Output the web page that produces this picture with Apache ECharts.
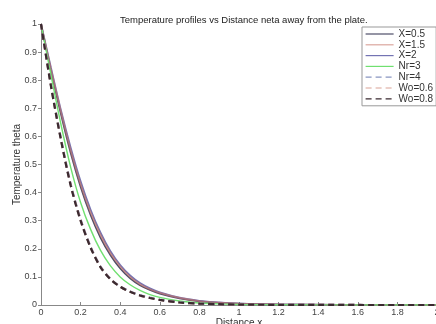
<!DOCTYPE html>
<html><head><meta charset="utf-8">
<script src="https://cdn.jsdelivr.net/npm/echarts@6/dist/echarts.min.js"></script>
<style>html,body{margin:0;padding:0;background:#fff}#c{width:436px;height:324px}</style>
</head><body><div id="c"></div>
<script>
var xs = [0,0.05,0.1,0.15,0.2,0.25,0.3,0.35,0.4,0.45,0.5,0.55,0.6,0.7,0.8,0.9,1.0,1.2,1.4,1.6,1.8,2.0];
var xTicks = ['0','0.2','0.4','0.6','0.8','1','1.2','1.4','1.6','1.8','2'];
var yTicks = ['0','0.1','0.2','0.3','0.4','0.5','0.6','0.7','0.8','0.9','1'];
var sX05 = [1,0.835,0.68,0.54,0.42,0.32,0.24,0.178,0.13,0.095,0.07,0.053,0.04,0.023,0.013,0.008,0.005,0.002,0.001,0.0005,0.0002,0];
var sX15 = [1,0.84,0.69,0.55,0.43,0.33,0.25,0.185,0.137,0.1,0.074,0.056,0.043,0.025,0.014,0.008,0.005,0.002,0.001,0.0005,0.0002,0];
var sX2 = [1,0.845,0.695,0.56,0.44,0.34,0.258,0.192,0.142,0.105,0.078,0.059,0.045,0.026,0.015,0.009,0.005,0.002,0.001,0.0005,0.0002,0];
var sNr3 = [1,0.82,0.645,0.49,0.365,0.27,0.195,0.14,0.1,0.072,0.052,0.037,0.027,0.014,0.007,0.004,0.002,0.001,0.0005,0.0002,0.0001,0];
var sNr4 = [1,0.785,0.595,0.43,0.305,0.208,0.138,0.094,0.066,0.048,0.035,0.026,0.019,0.01,0.005,0.003,0.0015,0.0006,0.0003,0.0001,0,0];
var sWo06 = [1,0.782,0.592,0.427,0.302,0.206,0.136,0.093,0.065,0.047,0.034,0.025,0.018,0.009,0.005,0.003,0.0015,0.0006,0.0003,0.0001,0,0];
var sWo08 = [1,0.78,0.59,0.425,0.3,0.205,0.135,0.092,0.065,0.047,0.034,0.025,0.018,0.009,0.005,0.003,0.0015,0.0006,0.0003,0.0001,0,0];

var names = ['X=0.5','X=1.5','X=2','Nr=3','Nr=4','Wo=0.6','Wo=0.8'];
var values = [sX05, sX15, sX2, sNr3, sNr4, sWo06, sWo08];
var colors = ['#3a3a58','#c8766a','#5a5aa6','#70e070','#6a7ab0','#d08a7a','#3a2a30'];
var types = ['solid','solid','solid','solid',[6,4],[6,4],[6,4]];
var widths = [1.6,1.8,1.8,1.4,2.2,2.2,2.2];
var opac = [0.9,0.65,0.85,1,0.8,0.8,1];
var zs = [1,3,2,4,5,6,7];

function pairs(v){ return xs.map(function(x,i){ return [x, v[i]]; }); }

var font = 'Liberation Sans, Arial, sans-serif';
var series = names.map(function(n,i){
  return {
    name: n, type: 'line', smooth: 0.3, symbol: 'none', data: pairs(values[i]),
    lineStyle: { color: colors[i], width: widths[i], type: types[i], opacity: opac[i] },
    itemStyle: { color: colors[i] },
    z: zs[i]
  };
});

var chart = echarts.init(document.getElementById('c'), null, {renderer:'canvas'});
chart.setOption({
  animation: false,
  backgroundColor: '#fff',
  title: {
    text: 'Temperature profiles vs Distance neta away from the plate.',
    left: 115, top: 10,
    textStyle: { fontFamily: font, fontSize: 9.5, fontWeight: 'normal', color: '#222' }
  },
  legend: {
    data: names, orient: 'vertical', left: 362, top: 27,
    padding: [2,3,2,3], itemWidth: 28, itemHeight: 10, itemGap: 0.8,
    borderColor: '#999', borderWidth: 1, borderRadius: 0, backgroundColor: '#fff',
    itemStyle: { opacity: 0 },
    lineStyle: { width: 1.2 },
    textStyle: { fontFamily: font, fontSize: 10, color: '#333' }
  },
  grid: { left: 41, right: -1, top: 24, bottom: 19, containLabel: false, outerBoundsMode: 'none' },
  xAxis: {
    type: 'value', min: 0, max: 2, interval: 0.2,
    name: 'Distance x', nameLocation: 'middle', nameGap: 13, nameMoveOverlap: false,
    nameTextStyle: { fontFamily: font, fontSize: 10, color: '#333' },
    axisLine: { lineStyle: { color: '#888', width: 1 } },
    axisTick: { inside: true, length: 3, lineStyle: { color: '#888' } },
    axisLabel: { fontFamily: font, fontSize: 9, color: '#444', margin: 3,
      formatter: function(v){ var i = Math.round(v/0.2); return xTicks[i] !== undefined ? xTicks[i] : ''; } },
    splitLine: { show: false }
  },
  yAxis: {
    type: 'value', min: 0, max: 1, interval: 0.1,
    name: 'Temperature theta', nameLocation: 'middle', nameGap: 19, nameMoveOverlap: false,
    nameTextStyle: { fontFamily: font, fontSize: 10, color: '#333' },
    axisLine: { show: true, lineStyle: { color: '#888', width: 1 } },
    axisTick: { show: true, inside: false, length: 3, lineStyle: { color: '#888' } },
    axisLabel: { fontFamily: font, fontSize: 9, color: '#444', margin: 4,
      formatter: function(v){ var i = Math.round(v/0.1); return yTicks[i] !== undefined ? yTicks[i] : ''; } },
    splitLine: { show: false }
  },
  series: series
});
</script>
</body></html>
